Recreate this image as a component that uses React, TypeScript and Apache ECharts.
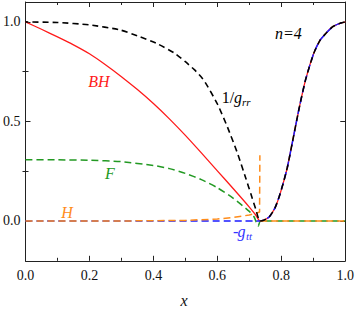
import React, { useEffect, useRef } from "react";
import * as echarts from "echarts";

// shared rising branch (x > x_min) where BH, -g_tt and 1/g_rr coincide
const riseX = [0.733, 0.745, 0.762, 0.78, 0.793, 0.806, 0.819, 0.834, 0.855, 0.876, 0.901, 0.92, 0.938, 0.96, 0.979, 1.0];
const riseY = [0.0, 0.004, 0.02, 0.065, 0.12, 0.19, 0.27, 0.39, 0.56, 0.71, 0.84, 0.905, 0.94, 0.975, 0.99, 1.0];

// BH (red solid), left branch
const bhX = [0, 0.05, 0.1, 0.15, 0.2, 0.25, 0.3, 0.35, 0.4, 0.45, 0.5, 0.55, 0.6, 0.65, 0.7, 0.72];
const bhY = [1.0, 0.963, 0.925, 0.885, 0.84, 0.785, 0.725, 0.66, 0.59, 0.513, 0.43, 0.342, 0.252, 0.162, 0.07, 0.03];

// 1/g_rr (black dashed), left branch
const grrX = [0, 0.1, 0.2, 0.295, 0.35, 0.409, 0.466, 0.5, 0.528, 0.554, 0.57, 0.601, 0.632, 0.663, 0.689, 0.705, 0.72];
const grrY = [1.0, 0.997, 0.985, 0.96, 0.93, 0.893, 0.843, 0.8, 0.76, 0.715, 0.675, 0.585, 0.47, 0.34, 0.215, 0.135, 0.06];

// -g_tt (blue dashed), left branch
const gttX = [0, 0.72];
const gttY = [0, 0];

// F (green dashed)
const fX = [0, 0.1, 0.2, 0.3, 0.4, 0.45, 0.5, 0.55, 0.6, 0.65, 0.7, 0.715, 0.728, 0.735, 1.0];
const fY = [0.307, 0.307, 0.305, 0.298, 0.279, 0.263, 0.239, 0.208, 0.167, 0.114, 0.048, 0.02, -0.025, 0.0, 0.0];

// H (orange dashed): pre-spike branch up to spike top, then post-spike branch
const hX = [0, 0.3, 0.5, 0.6, 0.65, 0.7, 0.72, 0.732, 0.733];
const hY = [0, 0, 0.003, 0.01, 0.018, 0.03, 0.038, 0.045, 0.33];
const h2X = [0.734, 1.0];
const h2Y = [0.0, 0.0];

const yMajorTicks = [0, 0.5, 1.0];
const yMinorTicks = [0.25, 0.75];

const pairs = (xs: number[], ys: number[]) => xs.map((x, i) => [x, ys[i]]);

const SERIF = "Liberation Serif";
const AX = "#222";

const label = (x: number, y: number, text: string, fill: string, size: number, italic: boolean, align = "left") => ({
  type: "text",
  x,
  y,
  style: {
    text,
    fill,
    fontFamily: SERIF,
    fontSize: size,
    fontStyle: italic ? "italic" : "normal",
    align,
    verticalAlign: "middle",
  },
});

export default function App() {
  const ref = useRef<HTMLDivElement>(null);
  useEffect(() => {
    if (!ref.current) return;
    const chart = echarts.init(ref.current, undefined, { renderer: "svg" });
    const xCommon = {
      type: "value",
      min: 0,
      max: 1,
      interval: 0.2,
      axisLine: { show: true, onZero: false, lineStyle: { color: AX, width: 1 } },
      axisTick: { show: true, inside: true, length: 5, lineStyle: { color: AX } },
      minorTick: { show: true, splitNumber: 2, length: 3, lineStyle: { color: AX } },
      splitLine: { show: false },
      minorSplitLine: { show: false },
    };
    const yCommon = {
      type: "value",
      min: -0.2,
      max: 1.1,
      splitLine: { show: false },
    };
    const lineBase = { type: "line", showSymbol: false, symbol: "none", xAxisIndex: 0, yAxisIndex: 0 };
    const hData: any[] = [...pairs(hX, hY), "-", ...pairs(h2X, h2Y)];
    chart.setOption({
      animation: false,
      backgroundColor: "#fff",
      grid: { left: 25, right: 10.3, top: 2, bottom: 49.2, containLabel: false },
      xAxis: [
        {
          ...xCommon,
          position: "bottom",
          axisLabel: {
            show: true,
            color: "#111",
            fontFamily: SERIF,
            fontSize: 14,
            margin: 8,
            formatter: (v: number) => v.toFixed(1),
          },
        },
        { ...xCommon, position: "top", axisLabel: { show: false } },
      ],
      yAxis: [
        {
          ...yCommon,
          position: "left",
          axisLine: { show: true, onZero: false, lineStyle: { color: AX, width: 1 } },
          axisTick: { show: true, inside: true, length: 5, customValues: yMajorTicks, lineStyle: { color: AX } },
          axisLabel: {
            show: true,
            customValues: yMajorTicks,
            color: "#111",
            fontFamily: SERIF,
            fontSize: 14,
            margin: 5,
            formatter: (v: number) => v.toFixed(1),
          },
        },
        {
          ...yCommon,
          position: "right",
          axisLine: { show: true, onZero: false, lineStyle: { color: AX, width: 1 } },
          axisTick: { show: true, inside: true, length: 5, customValues: yMajorTicks, lineStyle: { color: AX } },
          axisLabel: { show: false },
        },
        {
          ...yCommon,
          position: "left",
          axisLine: { show: false },
          axisTick: { show: true, inside: true, length: 3, customValues: yMinorTicks, lineStyle: { color: AX } },
          axisLabel: { show: false },
        },
        {
          ...yCommon,
          position: "right",
          axisLine: { show: false },
          axisTick: { show: true, inside: true, length: 3, customValues: yMinorTicks, lineStyle: { color: AX } },
          axisLabel: { show: false },
        },
      ],
      series: [
        {
          ...lineBase,
          name: "F",
          smooth: 0.2,
          data: pairs(fX, fY),
          lineStyle: { color: "#229922", width: 1.5, type: [7, 4] },
        },
        {
          ...lineBase,
          name: "BH",
          smooth: 0.2,
          data: pairs([...bhX, ...riseX], [...bhY, ...riseY]),
          lineStyle: { color: "#ff1a1a", width: 1.3, type: "solid" },
        },
        {
          ...lineBase,
          name: "-g_tt",
          smooth: 0.2,
          data: pairs([...gttX, ...riseX], [...gttY, ...riseY]),
          lineStyle: { color: "#1a1aff", width: 1.5, type: [7, 4] },
        },
        {
          ...lineBase,
          name: "H",
          smooth: false,
          connectNulls: false,
          data: hData,
          lineStyle: { color: "#ff8c1a", width: 1.5, type: [7, 4] },
        },
        {
          ...lineBase,
          name: "1/g_rr",
          smooth: 0.2,
          data: pairs([...grrX, ...riseX], [...grrY, ...riseY]),
          lineStyle: { color: "#000", width: 1.6, type: [6, 4], dashOffset: 3 },
        },
      ],
      graphic: [
        label(99, 81, "BH", "#ff1a1a", 16, true, "center"),
        label(221.7, 97, "1/", "#000", 16, false),
        label(234, 97, "g", "#000", 16, true),
        label(242, 102, "rr", "#000", 11, true),
        label(275, 33, "n=4", "#000", 16, true),
        label(110, 173, "F", "#229922", 16, true, "center"),
        label(67, 212, "H", "#ff8c1a", 16, true, "center"),
        label(233, 231, "-", "#3333ff", 16, false),
        label(237.5, 231, "g", "#3333ff", 16, true),
        label(246, 236, "tt", "#3333ff", 11, true),
        label(184, 300, "x", "#111", 16, true, "center"),
      ],
    });
    return () => chart.dispose();
  }, []);
  return (
    <div
      ref={ref}
      style={{ position: "absolute", left: 0, top: 0, width: 357, height: 310, background: "#fff" }}
    />
  );
}
